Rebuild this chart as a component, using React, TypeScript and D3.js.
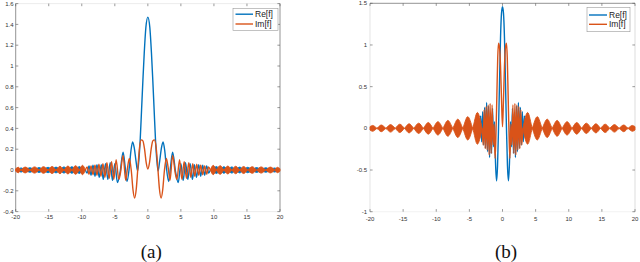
import * as d3 from 'd3';

type Pt = [number, number];

const BLUE = '#0072BD';
const ORANGE = '#D95319';

const seriesNames = ['Re[f]', 'Im[f]'];
const captions = ['(a)', '(b)'];

const xTicks = [-20, -15, -10, -5, 0, 5, 10, 15, 20];
const xTickLabels = ['-20', '-15', '-10', '-5', '0', '5', '10', '15', '20'];

const yTicksA = [-0.4, -0.2, 0, 0.2, 0.4, 0.6, 0.8, 1, 1.2, 1.4, 1.6];
const yTickLabelsA = ['-0.4', '-0.2', '0', '0.2', '0.4', '0.6', '0.8', '1', '1.2', '1.4', '1.6'];
const yTicksB = [-1, -0.5, 0, 0.5, 1, 1.5];
const yTickLabelsB = ['-1', '-0.5', '0', '0.5', '1', '1.5'];

// (a) Re[f], central part read point by point
const reCoreA: Pt[] = [
  [-9.45, 0], [-9.2, -0.03], [-8.9, 0.04], [-8.6, -0.05], [-8.3, 0.045], [-8.0, -0.06], [-7.7, 0.05],
  [-7.35, -0.07], [-7.05, 0.05], [-6.75, -0.09], [-6.4, 0.06], [-6.05, -0.09], [-5.7, 0.07], [-5.35, -0.1],
  [-5.0, 0.06], [-4.6, -0.12], [-4.2, -0.02], [-3.75, 0.17], [-3.45, 0.04], [-3.15, -0.11], [-2.8, 0.03],
  [-2.55, 0.19], [-2.3, 0.27], [-2.05, 0.21], [-1.8, 0.09], [-1.55, -0.01], [-1.35, 0.1], [-1.15, 0.3],
  [-0.95, 0.58], [-0.75, 0.86], [-0.55, 1.12], [-0.3, 1.37], [0, 1.47],
  [0.3, 1.37], [0.55, 1.12], [0.75, 0.86], [0.95, 0.58], [1.15, 0.3], [1.35, 0.1], [1.55, -0.01],
  [1.8, 0.09], [2.05, 0.21], [2.3, 0.27], [2.55, 0.19], [2.8, 0.03], [3.15, -0.11], [3.45, 0.04],
  [3.75, 0.17], [4.2, -0.02], [4.6, -0.12], [5.0, 0.06], [5.35, -0.1], [5.7, 0.07], [6.05, -0.09],
  [6.4, 0.06], [6.75, -0.09], [7.05, 0.05], [7.35, -0.07], [7.7, 0.05], [8.0, -0.06], [8.3, 0.045],
  [8.6, -0.05], [8.9, 0.04], [9.2, -0.03], [9.45, 0],
];

// (a) Im[f], central part
const imCoreA: Pt[] = [
  [-9.45, 0], [-9.2, 0.03], [-8.9, -0.04], [-8.6, 0.04], [-8.3, -0.045], [-8.0, 0.045], [-7.7, -0.05],
  [-7.4, 0.055], [-7.1, -0.06], [-6.8, 0.06], [-6.5, -0.07], [-6.2, 0.07], [-5.85, -0.08], [-5.5, 0.08],
  [-5.15, -0.09], [-4.8, 0.1], [-4.4, -0.09], [-4.15, -0.03], [-3.75, 0.14], [-3.35, -0.1], [-3.1, 0.01],
  [-2.8, 0.11], [-2.5, -0.01], [-2.25, -0.19], [-2.0, -0.27], [-1.75, -0.18], [-1.5, 0.03], [-1.25, 0.22],
  [-1.0, 0.29], [-0.75, 0.28], [-0.5, 0.2], [-0.25, 0.07], [0, 0.01],
  [0.25, 0.07], [0.5, 0.2], [0.75, 0.28], [1.0, 0.29], [1.25, 0.22], [1.5, 0.03], [1.75, -0.18],
  [2.0, -0.27], [2.25, -0.19], [2.5, -0.01], [2.8, 0.11], [3.1, 0.01], [3.35, -0.1], [3.75, 0.14],
  [4.15, -0.03], [4.4, -0.09], [4.8, 0.1], [5.15, -0.09], [5.5, 0.08], [5.85, -0.08], [6.2, 0.07],
  [6.5, -0.07], [6.8, 0.06], [7.1, -0.06], [7.4, 0.055], [7.7, -0.05], [8.0, 0.045], [8.3, -0.045],
  [8.6, 0.04], [8.9, -0.04], [9.2, 0.03], [9.45, 0],
];

// (a) outer dense oscillation, drawn as its envelope: [x, signed half height], 0 at the necks
const imBeadsA: Pt[] = [
  [-20, 0.012], [-19.6, 0.026], [-19.2, 0], [-18.55, -0.028], [-17.85, 0], [-17.15, 0.03],
  [-16.45, 0], [-15.8, -0.032], [-15.1, 0], [-14.5, 0.034], [-13.9, 0], [-13.3, -0.036],
  [-12.7, 0], [-12.1, 0.038], [-11.5, 0], [-10.95, -0.042], [-10.35, 0], [-9.9, 0.045],
  [-9.45, 0],
  [9.45, 0], [9.9, 0.045], [10.35, 0], [10.95, -0.042], [11.5, 0], [12.1, 0.038],
  [12.7, 0], [13.3, -0.036], [13.9, 0], [14.5, 0.034], [15.1, 0], [15.8, -0.032],
  [16.45, 0], [17.15, 0.03], [17.85, 0], [18.55, -0.028], [19.2, 0], [19.6, 0.026],
  [20, 0.012],
];
const reBeadsA: Pt[] = [
  [-19.6, 0], [-19.2, 0.02], [-18.55, 0], [-17.85, -0.022], [-17.15, 0], [-16.45, 0.024],
  [-15.8, 0], [-15.1, -0.026], [-14.5, 0], [-13.9, 0.028], [-13.3, 0], [-12.7, -0.03],
  [-12.1, 0], [-11.5, 0.032], [-10.95, 0], [-10.35, -0.034], [-9.9, 0],
  [9.9, 0], [10.35, -0.034], [10.95, 0], [11.5, 0.032], [12.1, 0], [12.7, -0.03],
  [13.3, 0], [13.9, 0.028], [14.5, 0], [15.1, -0.026], [15.8, 0], [16.45, 0.024],
  [17.15, 0], [17.85, -0.022], [18.55, 0], [19.2, 0.02], [19.6, 0],
];

// (b) Re[f]
const reCoreB: Pt[] = [
  [-3.6, 0], [-3.45, -0.12], [-3.3, 0.15], [-3.15, -0.16], [-3.0, 0.2], [-2.85, -0.2], [-2.7, 0.25],
  [-2.55, -0.24], [-2.4, 0.31], [-2.25, -0.28], [-2.1, 0.27], [-1.95, -0.35], [-1.8, 0.18], [-1.65, -0.3],
  [-1.5, 0.24], [-1.35, -0.22], [-1.2, 0.08], [-1.05, -0.42], [-0.9, -0.63], [-0.75, -0.45], [-0.6, 0],
  [-0.45, 0.55], [-0.3, 1.08], [-0.15, 1.38], [0, 1.46],
  [0.15, 1.38], [0.3, 1.08], [0.45, 0.55], [0.6, 0], [0.75, -0.45], [0.9, -0.63], [1.05, -0.42],
  [1.2, 0.08], [1.35, -0.22], [1.5, 0.24], [1.65, -0.3], [1.8, 0.18], [1.95, -0.35], [2.1, 0.27],
  [2.25, -0.28], [2.4, 0.31], [2.55, -0.24], [2.7, 0.25], [2.85, -0.2], [3.0, 0.2], [3.15, -0.16],
  [3.3, 0.15], [3.45, -0.12], [3.6, 0],
];

// (b) Im[f]
const imCoreB: Pt[] = [
  [-3.07, 0], [-2.92, -0.2], [-2.77, 0.22], [-2.62, -0.24], [-2.47, 0.26], [-2.32, -0.26], [-2.17, 0.28],
  [-2.02, -0.32], [-1.87, 0.3], [-1.72, -0.3], [-1.57, 0.28], [-1.42, -0.2], [-1.27, 0.05], [-1.12, -0.36],
  [-1.0, -0.12], [-0.85, 0.4], [-0.72, 0.85], [-0.6, 1.02], [-0.45, 0.97], [-0.3, 0.75], [-0.15, 0.35],
  [0, 0.02],
  [0.15, 0.35], [0.3, 0.75], [0.45, 0.97], [0.6, 1.02], [0.72, 0.85], [0.85, 0.4], [1.0, -0.12],
  [1.12, -0.36], [1.27, 0.05], [1.42, -0.2], [1.57, 0.28], [1.72, -0.3], [1.87, 0.3], [2.02, -0.32],
  [2.17, 0.28], [2.32, -0.26], [2.47, 0.26], [2.62, -0.24], [2.77, 0.22], [2.92, -0.2], [3.07, 0],
];

const imBeadsB: Pt[] = [
  [-20, -0.02], [-19.6, -0.035], [-18.95, 0], [-18.3, 0.04], [-17.6, 0], [-16.9, -0.045],
  [-16.2, 0], [-15.5, 0.05], [-14.8, 0], [-14.1, -0.055], [-13.4, 0], [-12.65, 0.062],
  [-11.95, 0], [-11.2, -0.07], [-10.5, 0], [-9.75, 0.08], [-9.0, 0], [-8.25, -0.095],
  [-7.5, 0], [-6.75, 0.11], [-6.0, 0], [-5.25, -0.14], [-4.5, 0], [-3.8, 0.19], [-3.07, 0],
  [3.07, 0], [3.8, 0.19], [4.5, 0], [5.25, -0.14], [6.0, 0], [6.75, 0.11], [7.5, 0],
  [8.25, -0.095], [9.0, 0], [9.75, 0.08], [10.5, 0], [11.2, -0.07], [11.95, 0],
  [12.65, 0.062], [13.4, 0], [14.1, -0.055], [14.8, 0], [15.5, 0.05], [16.2, 0],
  [16.9, -0.045], [17.6, 0], [18.3, 0.04], [18.95, 0], [19.6, -0.035], [20, -0.02],
];

const FONT = 'Liberation Sans, Arial, sans-serif';

type Band = { data: Pt[]; color: string } | null;

function Panel(props: {
  xRange: [number, number];
  yDomain: [number, number];
  yRange: [number, number];
  yTicks: number[];
  yLabels: string[];
  lines: Band[];
  beads: Band[];
  legend: { x: number; y: number; w: number; h: number; rows: number[]; lx: [number, number]; tx: number };
  caption: string;
  frame: { left: string; right: string; top: string; bottom: string };
  xLabelY: number;
  yLabelX: number;
}) {
  const { xRange, yDomain, yRange, yTicks, yLabels, lines, beads, legend, caption, frame } = props;
  const x = d3.scaleLinear().domain([-20, 20]).range(xRange);
  const y = d3.scaleLinear().domain(yDomain).range(yRange);
  const [xl, xr] = xRange;
  const [yb, yt] = yRange;
  const line = d3.line<Pt>().x(d => x(d[0])).y(d => y(d[1])).curve(d3.curveMonotoneX);
  const area = d3
    .area<Pt>()
    .x(d => x(d[0]))
    .y0(d => y(-d[1]))
    .y1(d => y(d[1]))
    .curve(d3.curveMonotoneX);

  // split an envelope list into runs where it jumps over the centre
  const runs = (data: Pt[]) => {
    const out: Pt[][] = [];
    let cur: Pt[] = [];
    data.forEach((d, i) => {
      if (i > 0 && d[0] - data[i - 1][0] > 2) {
        out.push(cur);
        cur = [];
      }
      cur.push(d);
    });
    out.push(cur);
    return out;
  };

  const tick = 2.6;
  const colors = [BLUE, ORANGE];

  return (
    <g>
      {/* frame */}
      <line x1={xl} x2={xl} y1={yt} y2={yb} stroke={frame.left} strokeWidth={0.7} />
      <line x1={xr} x2={xr} y1={yt} y2={yb} stroke={frame.right} strokeWidth={0.7} />
      <line x1={xl} x2={xr} y1={yt} y2={yt} stroke={frame.top} strokeWidth={0.7} />
      <line x1={xl} x2={xr} y1={yb} y2={yb} stroke={frame.bottom} strokeWidth={0.7} />

      {/* ticks */}
      {xTicks.map((t, i) => (
        <g key={'x' + t}>
          <line x1={x(t)} x2={x(t)} y1={yb} y2={yb - tick} stroke="#555" strokeWidth={0.6} />
          <line x1={x(t)} x2={x(t)} y1={yt} y2={yt + tick} stroke="#555" strokeWidth={0.6} />
          <text x={x(t)} y={props.xLabelY} fontSize={6} fill="#333" textAnchor="middle" fontFamily={FONT}>
            {xTickLabels[i]}
          </text>
        </g>
      ))}
      {yTicks.map((t, i) => (
        <g key={'y' + t}>
          <line x1={xl} x2={xl + tick} y1={y(t)} y2={y(t)} stroke="#555" strokeWidth={0.6} />
          <line x1={xr} x2={xr - tick} y1={y(t)} y2={y(t)} stroke="#555" strokeWidth={0.6} />
          <text x={props.yLabelX} y={y(t) + 2.1} fontSize={6} fill="#333" textAnchor="end" fontFamily={FONT}>
            {yLabels[i]}
          </text>
        </g>
      ))}

      {/* data: Re first, Im on top */}
      {[0, 1].map(s => (
        <g key={'s' + s}>
          {lines[s] && (
            <path
              d={line(lines[s]!.data) || ''}
              fill="none"
              stroke={lines[s]!.color}
              strokeWidth={1.4}
              strokeLinejoin="round"
            />
          )}
          {beads[s] &&
            runs(beads[s]!.data).map((r, ri) => (
              <path key={ri} d={area(r) || ''} fill={beads[s]!.color} stroke={beads[s]!.color} strokeWidth={0.9} />
            ))}
        </g>
      ))}

      {/* legend */}
      <rect x={legend.x} y={legend.y} width={legend.w} height={legend.h} fill="#fff" stroke="#999" strokeWidth={0.6} />
      {seriesNames.map((n, i) => (
        <g key={n}>
          <line
            x1={legend.lx[0]}
            x2={legend.lx[1]}
            y1={legend.rows[i]}
            y2={legend.rows[i]}
            stroke={colors[i]}
            strokeWidth={1.4}
          />
          <text x={legend.tx} y={legend.rows[i] + 3} fontSize={8.5} fill="#222" fontFamily={FONT}>
            {n}
          </text>
        </g>
      ))}

      <text
        x={(xl + xr) / 2 + 3.5}
        y={257.5}
        fontSize={19}
        fill="#111"
        textAnchor="middle"
        fontFamily="Liberation Serif, Times New Roman, serif"
      >
        {caption}
      </text>
    </g>
  );
}

export default function App() {
  return (
    <svg width={640} height={262} style={{ position: 'fixed', left: 0, top: 0, background: '#fff' }}>
      <Panel
        xRange={[15.7, 280]}
        yDomain={[-0.4, 1.6]}
        yRange={[211.6, 3.6]}
        yTicks={yTicksA}
        yLabels={yTickLabelsA}
        lines={[
          { data: reCoreA, color: BLUE },
          { data: imCoreA, color: ORANGE },
        ]}
        beads={[
          { data: reBeadsA, color: BLUE },
          { data: imBeadsA, color: ORANGE },
        ]}
        legend={{ x: 233, y: 8.5, w: 45, h: 22, rows: [14.2, 24], lx: [235.5, 253], tx: 255 }}
        caption={captions[0]}
        frame={{ left: '#666', right: '#666', top: '#e4e4e4', bottom: '#e4e4e4' }}
        xLabelY={219.3}
        yLabelX={13.5}
      />
      <Panel
        xRange={[370, 635]}
        yDomain={[-1, 1.5]}
        yRange={[211.7, 3.3]}
        yTicks={yTicksB}
        yLabels={yTickLabelsB}
        lines={[
          { data: reCoreB, color: BLUE },
          { data: imCoreB, color: ORANGE },
        ]}
        beads={[null, { data: imBeadsB, color: ORANGE }]}
        legend={{ x: 587, y: 7.3, w: 43, h: 24.4, rows: [15, 24.3], lx: [589, 607], tx: 609 }}
        caption={captions[1]}
        frame={{ left: '#d8d8d8', right: '#cfcfcf', top: '#666', bottom: '#eeeeee' }}
        xLabelY={220.5}
        yLabelX={367}
      />
    </svg>
  );
}
